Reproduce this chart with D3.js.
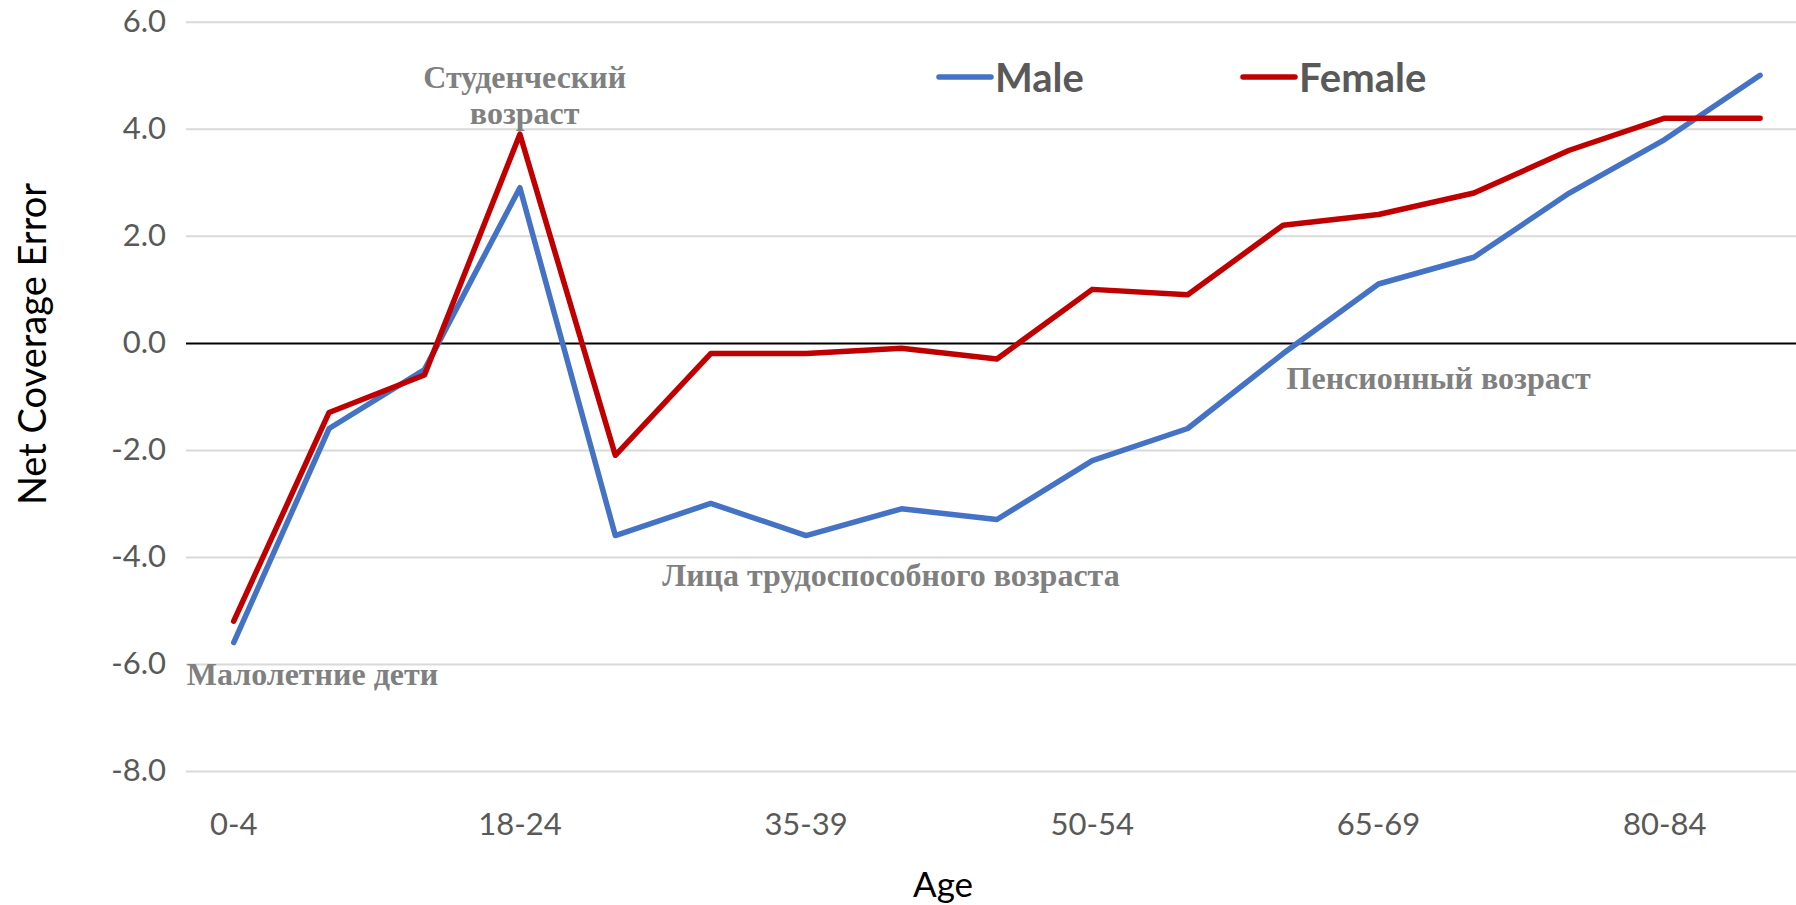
<!DOCTYPE html>
<html>
<head>
<meta charset="utf-8">
<script src="https://cdn.jsdelivr.net/npm/d3@7"></script>
<style>
  body { margin: 0; background: #fff; }
  svg { display: block; }
</style>
</head>
<body>
<div class="chart"></div>
<script>
// data
var ages = ["0-4", "5-9", "10-17", "18-24", "25-29", "30-34", "35-39", "40-44", "45-49",
            "50-54", "55-59", "60-64", "65-69", "70-74", "75-79", "80-84", "85+"];
var male   = [-5.6, -1.6, -0.5, 2.9, -3.6, -3.0, -3.6, -3.1, -3.3, -2.2, -1.6, -0.2, 1.1, 1.6, 2.8, 3.8, 5.0];
var female = [-5.2, -1.3, -0.6, 3.9, -2.1, -0.2, -0.2, -0.1, -0.3, 1.0, 0.9, 2.2, 2.4, 2.8, 3.6, 4.2, 4.2];
var yTicks = [-8, -6, -4, -2, 0, 2, 4, 6];
var seriesNames = ["Male", "Female"];
var seriesColors = ["#4472C4", "#C00000"];

// annotations: text lines, category position and value they sit at
var notes = [
  {lines: ["Студенческий", "возраст"], at: 3.05, v: 4.76, anchor: "middle"},
  {lines: ["Малолетние дети"], at: 0, v: -6.39, anchor: "start", dx: -47},
  {lines: ["Лица трудоспособного возраста"], at: 6.89, v: -4.54, anchor: "middle"},
  {lines: ["Пенсионный возраст"], at: 12.63, v: -0.87, anchor: "middle"}
];

var svg_width = 1796;
var svg_height = 905;
var plotLeft = 186, plotTop = 21.8, plotBottom = 771;
var band = 95.4;

var svg = d3.select(".chart").append("svg")
  .attr("width", svg_width)
  .attr("height", svg_height);

var x = d3.scaleBand()
  .domain(ages)
  .range([plotLeft, plotLeft + band * ages.length])
  .padding(0);

var y = d3.scaleLinear()
  .domain([-8, 6])
  .range([plotBottom, plotTop]);

var cx = function(i) { return x(ages[i]) + x.bandwidth() / 2; };
var cxf = function(f) { return x(ages[0]) + x.bandwidth() * (f + 0.5); };

// gridlines + y labels
var yAxis = svg.append("g")
  .attr("transform", "translate(" + plotLeft + ",0)")
  .call(d3.axisLeft(y)
    .tickValues(yTicks)
    .tickSize(-(svg_width - plotLeft))
    .tickPadding(20)
    .tickFormat(function(d) { return d.toFixed(1); }));

yAxis.select(".domain").remove();
yAxis.selectAll(".tick line")
  .attr("stroke", function(d) { return d === 0 ? "#000" : "#d9d9d9"; })
  .attr("stroke-width", 2);
yAxis.selectAll(".tick text")
  .attr("font-family", "Lato, 'Open Sans', sans-serif")
  .attr("font-size", "31px")
  .attr("fill", "#595959");

// x labels
var xAxis = svg.append("g")
  .attr("transform", "translate(0," + plotBottom + ")")
  .call(d3.axisBottom(x)
    .tickValues(ages.filter(function(d, i) { return i % 3 === 0; }))
    .tickSize(0)
    .tickPadding(42));

xAxis.select(".domain").remove();
xAxis.selectAll(".tick text")
  .attr("font-family", "Lato, 'Open Sans', sans-serif")
  .attr("font-size", "31px")
  .attr("fill", "#595959");

// lines
var line = d3.line()
  .x(function(d, i) { return cx(i); })
  .y(function(d) { return y(d); });

[male, female].forEach(function(s, k) {
  svg.append("path")
    .datum(s)
    .attr("d", line)
    .attr("fill", "none")
    .attr("stroke", seriesColors[k])
    .attr("stroke-width", 5.5)
    .attr("stroke-linejoin", "round")
    .attr("stroke-linecap", "round");
});

// annotations
notes.forEach(function(n) {
  var t = svg.append("text")
    .attr("x", cxf(n.at) + (n.dx || 0))
    .attr("y", y(n.v))
    .attr("text-anchor", n.anchor)
    .attr("font-family", "'Liberation Serif', 'Times New Roman', serif")
    .attr("font-weight", "bold")
    .attr("font-size", "32px")
    .attr("fill", "#808080");
  n.lines.forEach(function(l, j) {
    t.append("tspan")
      .attr("x", cxf(n.at) + (n.dx || 0))
      .attr("dy", j === 0 ? 0 : 36)
      .text(l);
  });
});

// legend
var legend = svg.selectAll(".legend")
  .data(seriesNames)
  .enter()
  .append("g")
  .attr("transform", function(d, i) { return "translate(" + (939 + i * 304) + ",77)"; });

legend.append("line")
  .attr("x1", 0).attr("x2", 52)
  .attr("y1", 0).attr("y2", 0)
  .attr("stroke", function(d, i) { return seriesColors[i]; })
  .attr("stroke-width", 5.5)
  .attr("stroke-linecap", "round");

legend.append("text")
  .attr("x", 56)
  .attr("y", 15)
  .attr("font-family", "Lato, 'Open Sans', sans-serif")
  .attr("font-weight", "bold")
  .attr("font-size", "40px")
  .attr("fill", "#595959")
  .text(function(d) { return d; });

// axis titles
svg.append("text")
  .attr("transform", "translate(46,344) rotate(-90)")
  .attr("text-anchor", "middle")
  .attr("font-family", "Lato, 'Open Sans', sans-serif")
  .attr("font-size", "38px")
  .attr("fill", "#000")
  .text("Net Coverage Error");

svg.append("text")
  .attr("x", 943)
  .attr("y", 897)
  .attr("text-anchor", "middle")
  .attr("font-family", "Lato, 'Open Sans', sans-serif")
  .attr("font-size", "35px")
  .attr("fill", "#000")
  .text("Age");
</script>
</body>
</html>
